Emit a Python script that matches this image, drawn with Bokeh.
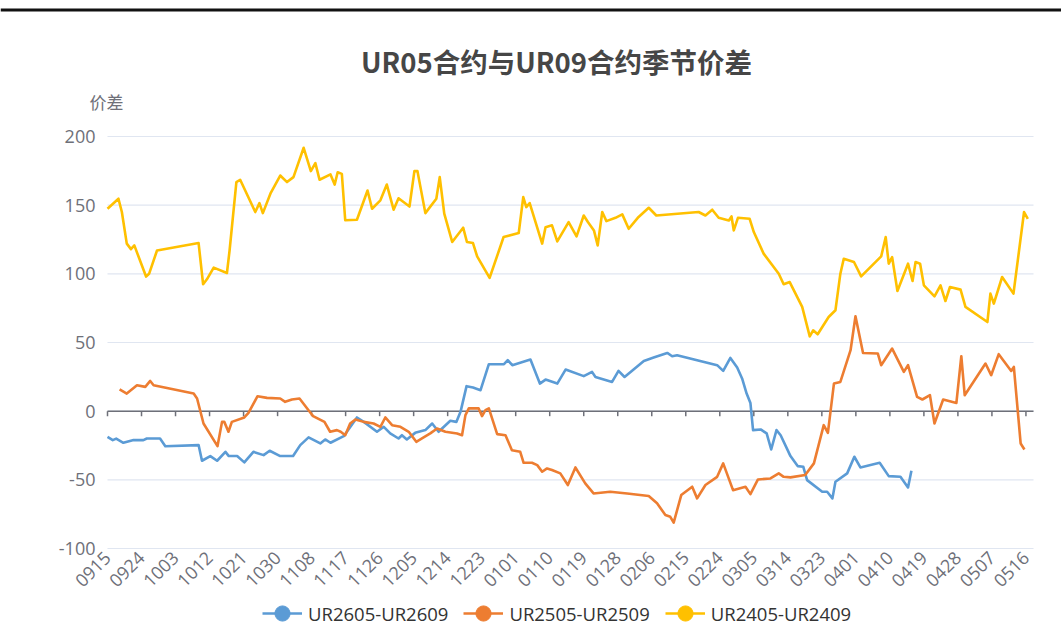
import math
from bokeh.plotting import figure
from bokeh.models import Range1d, FixedTicker, Span, Legend, LegendItem, Label
from bokeh.embed import file_html
from bokeh.resources import INLINE

# ---- data ----
tick_labels = ["0915", "0924", "1003", "1012", "1021", "1030", "1108", "1117", "1126",
               "1205", "1214", "1223", "0101", "0110", "0119", "0128", "0206", "0215",
               "0224", "0305", "0314", "0323", "0401", "0410", "0419", "0428", "0507", "0516"]
tick_step = 9  # days between labelled dates

# UR2405-UR2409 (day offset from 0915, spread)
d_2405 = [0, 2.9, 3.8, 5.1, 6.2, 7.1, 10.2, 11, 13.1, 24.1,
          25.3, 26.3, 28.1, 31.6, 32.3, 34.1, 35.1, 39.1, 40.2, 41.1,
          43.2, 45.7, 47.5, 49.2, 51.9, 53.8, 55, 56.1, 59, 60.1,
          60.9, 62, 62.9, 66, 68.8, 70, 72.2, 73.9, 75.7, 77,
          79.9, 81.2, 82, 84.1, 87, 87.9, 89.1, 91.2, 94.1, 95.1,
          96.7, 97.8, 101.1, 104.8, 108.8, 110, 110.8, 111.7, 115, 115.9,
          117.6, 119, 122, 124.1, 126, 127.1, 128.7, 129.7, 130.9, 132,
          134.4, 136.2, 137.9, 140.3, 143.2, 145.2, 156.4, 158.2, 160, 161.7,
          164.4, 165.1, 165.7, 166.8, 169.9, 171, 173.6, 177.6, 178.9, 180.5,
          183.8, 185.8, 186.7, 187.9, 190.8, 192.6, 193.9, 194.8, 197.5, 199.4,
          204.7, 205.9, 206.7, 207.6, 209, 211.8, 213, 213.8, 215, 216,
          218.8, 220.4, 221.7, 222.9, 225.7, 227, 232.8, 233.6, 234.5, 236.7,
          239.7, 242.5, 243.5]
v_2405 = [147.4, 154.7, 145, 122, 118, 120.7, 98, 100, 117, 122.4,
          92.4, 96, 104.5, 100.6, 117, 166.8, 168.5, 145, 151.5, 144.2,
          159, 171.6, 166.8, 170.4, 191.8, 174.8, 180.6, 168.5, 172.4, 165,
          174, 172.8, 139, 139.4, 160.7, 147.4, 153.5, 165, 146.7, 155,
          149, 174.8, 174.8, 144.2, 154.7, 170.4, 143.8, 123.2, 133.6, 123.2,
          122.4, 112.7, 97, 126.8, 129.7, 155.9, 148.6, 151.5, 122, 134,
          135.3, 123.6, 137.7, 127.3, 142.5, 137.7, 131.6, 120.7, 145, 138.4,
          140.8, 143.3, 132.8, 140.8, 148.1, 142.5, 145, 142.5, 146.7, 140.8,
          138.9, 141.8, 131.6, 140.8, 140.1, 130.4, 114.7, 100.1, 92.4, 94,
          75.9, 54.5, 58.9, 56, 68.6, 73.5, 100.1, 111, 108.6, 98.2,
          112.7, 126.8, 107.4, 112.2, 87.5, 107.4, 94.8, 108.6, 107.4, 91.6,
          83.6, 91.6, 80.2, 90.4, 88.5, 75.9, 64.9, 85.6, 78.3, 97.7,
          85.6, 145, 140.1]

# UR2505-UR2509
d_2505 = [3.2, 5.1, 7.8, 10, 11.3, 12.2, 22.8, 23.7, 25.4, 29.1,
          30.3, 30.9, 32, 32.9, 36.2, 37.3, 39.7, 42.2, 45.7, 47,
          48.8, 50.8, 53.7, 54.4, 57.4, 58.9, 60.7, 61.7, 62.9, 64.2,
          65.6, 67.8, 70.4, 72.2, 73.5, 75.3, 77.5, 79.7, 81.7, 83.2,
          85.4, 87.2, 89.4, 92.5, 93.8, 94.7, 95.6, 98.2, 99.1, 100,
          100.9, 103.1, 105.3, 107, 109.2, 110.1, 112.3, 113.7, 115, 116.3,
          117.6, 119.8, 121.8, 123.8, 126.4, 128.6, 133, 137.5, 143.2, 145.4,
          147.6, 148.9, 149.8, 151.8, 154.7, 156, 158.2, 161.3, 162.9, 165.5,
          168.8, 170.1, 172.1, 175.4, 177.6, 178.9, 180.7, 184.6, 186.9, 189.5,
          190.6, 192.2, 193.9, 196.6, 197.9, 199.9, 203.8, 204.7, 207.6, 210.7,
          211.8, 214.2, 215.6, 217.6, 218.8, 221.1, 224.6, 225.9, 226.8, 232.3,
          233.8, 235.8, 239.1, 239.8, 241.6, 242.6]
v_2505 = [15.8, 12.8, 18.9, 17.7, 22, 18.9, 12.8, 9.2, -9, -25.5,
          -7.8, -7.8, -15, -7.8, -4.6, -1.2, 10.9, 9.7, 9.2, 6.8,
          8.5, 9.2, -1.2, -3.6, -7.8, -15, -13.8, -15, -17.5, -9,
          -6, -7.8, -9, -11.4, -4.6, -10.2, -11.4, -15, -22.3, -19.9,
          -16.2, -12.6, -15, -16.2, -17.5, -2.9, 2, 2, -3.6, 0.7,
          2, -16.7, -17.5, -28.4, -29.6, -37.6, -37.6, -39.3, -44.1, -41.7,
          -42.9, -45.3, -53.8, -41, -52.6, -59.9, -58.7, -59.9, -61.8, -67.1,
          -75.6, -76.9, -81.2, -61.1, -55, -63.5, -53.8, -47.8, -38, -57.5,
          -55, -60.4, -49.7, -49, -45.3, -47.8, -48.2, -46.5, -38, -10.2,
          -15.8, 20.1, 21.3, 44.4, 69.1, 42.4, 42, 33.5, 45.6, 28.6,
          33.5, 10.4, 8.5, 11.6, -9, 8.5, 6, 40, 11.6, 34.7,
          26.2, 41.5, 29.3, 32.2, -23.5, -27.9]

# UR2605-UR2609
d_2605 = [0, 1.4, 2.3, 4.2, 6.9, 9.5, 10.4, 13.9, 15.3, 24.1,
          25, 27.2, 29, 31.2, 32.1, 34.3, 36.2, 38.6, 41.3, 42.9,
          45.7, 49.1, 51, 53.2, 56.3, 57.6, 59, 62.5, 66, 67.8,
          71.3, 73.1, 74.8, 77, 77.9, 79.2, 81.4, 84.1, 85.9, 87.6,
          90.7, 92.3, 93.4, 95, 96.7, 98.7, 100.9, 104.9, 105.9, 107.1,
          111.9, 114.4, 115.9, 119, 121.2, 126, 128.2, 129.1, 133.5, 135.2,
          136.8, 141.9, 144.5, 148.1, 149.4, 150.7, 161.3, 162.9, 164.8, 166.6,
          167.9, 169.1, 170.1, 170.8, 172.8, 174.4, 175.6, 177, 178.1, 180.7,
          182.6, 184.1, 185.1, 189.1, 190.4, 191.8, 192.6, 195.7, 197.6, 199.2,
          204.3, 206.7, 209.8, 211.8, 212.7]
v_2605 = [-18.7, -21.1, -20, -23, -21, -21.1, -19.9, -19.9, -25.5, -24.7,
          -36.1, -32.7, -36.1, -29.6, -32.7, -32.7, -37.3, -29.6, -32, -28.8,
          -32.7, -32.7, -24.7, -19.1, -23.5, -20.6, -23, -18.2, -4.6, -7.8,
          -15, -11.4, -16.2, -19.9, -17.5, -20.6, -15.8, -13.8, -9, -15,
          -7, -7.8, -0.5, 18.2, 17.2, 15.3, 34.2, 34.2, 37.1, 33.5,
          37.6, 20.1, 23, 20.1, 30.3, 25.5, 28.6, 24.9, 21.3, 29.3,
          24.9, 36.6, 39, 42.4, 40, 40.7, 33.5, 29.3, 38.8, 31.8,
          23.8, 12.8, 6, -13.8, -13.3, -16.2, -27.9, -13.8, -17.5, -32.7,
          -40, -40.5, -50.2, -58.7, -58.7, -63.5, -51.4, -45.3, -33.2, -41,
          -37.6, -47.3, -47.8, -55.5, -43.4]

y_ticks = [-100, -50, 0, 50, 100, 150, 200]
series_names = ["UR2605-UR2609", "UR2505-UR2509", "UR2405-UR2409"]
colors = ["#5b9bd5", "#ed7d31", "#ffc000"]
title_text = "UR05合约与UR09合约季节价差"
y_name = "价差"

# ---- layout (pixels on the page) ----
W, H = 1061, 640
PL, PR, PT, PB = 107, 1033, 136, 548          # plotting area edges
X0, X1, Y0, Y1 = 0, 245, -100, 200             # data extent of plotting area
sx = (PR - PL) / (X1 - X0)
sy = (PB - PT) / (Y1 - Y0)

p = figure(width=W, height=H,
           x_range=Range1d(X0 - PL / sx, X1 + (W - PR) / sx),
           y_range=Range1d(Y0 - (H - PB) / sy, Y1 + PT / sy),
           output_backend="svg", toolbar_location=None, min_border=0)
p.min_border_left = p.min_border_right = p.min_border_top = p.min_border_bottom = 0
p.title.visible = False
p.outline_line_color = None
p.background_fill_color = "white"
p.border_fill_color = "white"
p.xgrid.visible = False
p.ygrid.visible = False

axis_color = "#6e7079"
tick_pos = [i * tick_step for i in range(len(tick_labels))]

# x axis drawn along the bottom of the plotting area
xa = p.xaxis[0]
xa.fixed_location = Y0
xa.ticker = FixedTicker(ticks=tick_pos)
xa.major_label_overrides = {t: l for t, l in zip(tick_pos, tick_labels)}
xa.major_label_orientation = math.pi / 4
xa.axis_line_color = None
xa.major_tick_line_color = None
xa.minor_tick_line_color = None
xa.major_tick_out = 0
xa.major_tick_in = 0
xa.major_label_standoff = 6
xa.major_label_text_font_size = "18px"
xa.major_label_text_color = axis_color
xa.major_label_text_font = "Open Sans"

ya = p.yaxis[0]
ya.fixed_location = X0
ya.ticker = FixedTicker(ticks=y_ticks)
ya.major_label_overrides = {t: str(t) for t in y_ticks}
ya.axis_line_color = None
ya.major_tick_line_color = None
ya.minor_tick_line_color = None
ya.major_tick_out = 0
ya.major_tick_in = 0
ya.major_label_standoff = 12
ya.major_label_text_font_size = "18px"
ya.major_label_text_color = axis_color
ya.major_label_text_font = "Open Sans"

# horizontal grid lines across the plotting area only
n = len(y_ticks)
p.segment(x0=[X0] * n, x1=[X1] * n, y0=y_ticks, y1=y_ticks,
          line_color="#e0e6f1", line_width=1.2)

# zero axis line with tick marks
p.segment(x0=[X0], x1=[X1], y0=[0], y1=[0], line_color=axis_color, line_width=1.5)
p.segment(x0=tick_pos, y0=[0] * len(tick_pos), x1=tick_pos,
          y1=[-5 / sy] * len(tick_pos), line_color=axis_color, line_width=1.5)

# black rule at the very top of the page
p.add_layout(Span(location=Y1 + (PT - 9.5) / sy, dimension="width",
                  line_color="#111111", line_width=3))

items = []
for name, d, v, c in [(series_names[0], d_2605, v_2605, colors[0]),
                      (series_names[1], d_2505, v_2505, colors[1]),
                      (series_names[2], d_2405, v_2405, colors[2])]:
    r = p.line(d, v, line_color=c, line_width=2.6, line_join="round")
    # zero-size marker on the first point: invisible on the plot, gives the legend its dot
    s = p.scatter(d[:1], v[:1], size=0, fill_color=c, line_color=c)
    items.append(LegendItem(label=name, renderers=[r, s]))

legend = Legend(items=items, location=(262, H - 632), orientation="horizontal",
                padding=0, margin=0, spacing=15, glyph_width=40, glyph_height=38,
                label_height=38, label_standoff=6, label_text_font_size="18.5px",
                label_text_color="#333333", label_text_font="Open Sans",
                border_line_color=None, background_fill_alpha=0)
p.add_layout(legend)

p.add_layout(Label(x=556, y=H - 60, x_units="screen", y_units="screen", text=title_text,
                   text_align="center", text_baseline="middle", text_font="Noto Sans CJK SC",
                   text_font_style="bold", text_font_size="27.5px", text_color="#464646"))
p.add_layout(Label(x=106, y=H - 101, x_units="screen", y_units="screen", text=y_name,
                   text_align="center", text_baseline="middle", text_font="Noto Sans CJK SC",
                   text_font_size="17px", text_color=axis_color))

open("out.html", "w").write(file_html(p, INLINE))
